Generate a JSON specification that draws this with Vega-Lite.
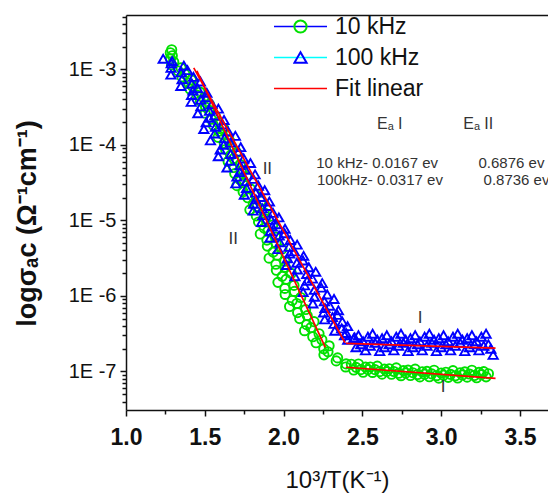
{
  "$schema": "https://vega.github.io/schema/vega-lite/v6.json",
  "width": 422,
  "height": 395,
  "autosize": {"type": "none"},
  "padding": {"left": 126, "top": 15, "right": 0, "bottom": 84},
  "background": "white",
  "config": {
    "view": {"stroke": null},
    "font": "Liberation Sans",
    "axis": {"domainColor": "#111", "domainWidth": 1.5, "tickColor": "#111", "tickWidth": 1.5, "grid": false, "labelColor": "#111", "titleColor": "#111", "labelFont": "Liberation Sans", "titleFont": "Liberation Sans"}
  },
  "resolve": {"axis": {"x": "independent"}},
  "datasets": {
    "points": [
      {"series": "10 kHz", "x": 1.290, "y": -2.74}, {"series": "10 kHz", "x": 1.281, "y": -2.78}, {"series": "10 kHz", "x": 1.294, "y": -2.82}, {"series": "10 kHz", "x": 1.282, "y": -2.86},
      {"series": "10 kHz", "x": 1.303, "y": -2.90}, {"series": "10 kHz", "x": 1.289, "y": -2.94}, {"series": "10 kHz", "x": 1.349, "y": -2.98}, {"series": "10 kHz", "x": 1.331, "y": -3.02},
      {"series": "10 kHz", "x": 1.373, "y": -3.06}, {"series": "10 kHz", "x": 1.355, "y": -3.10}, {"series": "10 kHz", "x": 1.415, "y": -3.14}, {"series": "10 kHz", "x": 1.397, "y": -3.18},
      {"series": "10 kHz", "x": 1.421, "y": -3.22}, {"series": "10 kHz", "x": 1.406, "y": -3.26}, {"series": "10 kHz", "x": 1.469, "y": -3.30}, {"series": "10 kHz", "x": 1.451, "y": -3.34},
      {"series": "10 kHz", "x": 1.493, "y": -3.38}, {"series": "10 kHz", "x": 1.472, "y": -3.42}, {"series": "10 kHz", "x": 1.529, "y": -3.46}, {"series": "10 kHz", "x": 1.505, "y": -3.50},
      {"series": "10 kHz", "x": 1.526, "y": -3.54}, {"series": "10 kHz", "x": 1.503, "y": -3.58}, {"series": "10 kHz", "x": 1.567, "y": -3.62}, {"series": "10 kHz", "x": 1.541, "y": -3.66},
      {"series": "10 kHz", "x": 1.583, "y": -3.70}, {"series": "10 kHz", "x": 1.554, "y": -3.74}, {"series": "10 kHz", "x": 1.619, "y": -3.78}, {"series": "10 kHz", "x": 1.590, "y": -3.82},
      {"series": "10 kHz", "x": 1.611, "y": -3.86}, {"series": "10 kHz", "x": 1.584, "y": -3.90}, {"series": "10 kHz", "x": 1.656, "y": -3.94}, {"series": "10 kHz", "x": 1.624, "y": -3.98},
      {"series": "10 kHz", "x": 1.669, "y": -4.02}, {"series": "10 kHz", "x": 1.632, "y": -4.06}, {"series": "10 kHz", "x": 1.701, "y": -4.10}, {"series": "10 kHz", "x": 1.663, "y": -4.14},
      {"series": "10 kHz", "x": 1.684, "y": -4.18}, {"series": "10 kHz", "x": 1.648, "y": -4.22}, {"series": "10 kHz", "x": 1.725, "y": -4.26}, {"series": "10 kHz", "x": 1.684, "y": -4.30},
      {"series": "10 kHz", "x": 1.732, "y": -4.34}, {"series": "10 kHz", "x": 1.690, "y": -4.38}, {"series": "10 kHz", "x": 1.766, "y": -4.42}, {"series": "10 kHz", "x": 1.723, "y": -4.46},
      {"series": "10 kHz", "x": 1.745, "y": -4.50}, {"series": "10 kHz", "x": 1.704, "y": -4.54}, {"series": "10 kHz", "x": 1.789, "y": -4.58}, {"series": "10 kHz", "x": 1.743, "y": -4.62},
      {"series": "10 kHz", "x": 1.820, "y": -4.66}, {"series": "10 kHz", "x": 1.773, "y": -4.70}, {"series": "10 kHz", "x": 1.857, "y": -4.74}, {"series": "10 kHz", "x": 1.808, "y": -4.78},
      {"series": "10 kHz", "x": 1.831, "y": -4.82}, {"series": "10 kHz", "x": 1.786, "y": -4.86}, {"series": "10 kHz", "x": 1.878, "y": -4.90}, {"series": "10 kHz", "x": 1.827, "y": -4.94},
      {"series": "10 kHz", "x": 1.884, "y": -4.98}, {"series": "10 kHz", "x": 1.841, "y": -5.02}, {"series": "10 kHz", "x": 1.931, "y": -5.06}, {"series": "10 kHz", "x": 1.877, "y": -5.10},
      {"series": "10 kHz", "x": 1.901, "y": -5.14}, {"series": "10 kHz", "x": 1.852, "y": -5.18}, {"series": "10 kHz", "x": 1.949, "y": -5.22}, {"series": "10 kHz", "x": 1.894, "y": -5.26},
      {"series": "10 kHz", "x": 1.952, "y": -5.30}, {"series": "10 kHz", "x": 1.897, "y": -5.34}, {"series": "10 kHz", "x": 1.990, "y": -5.38}, {"series": "10 kHz", "x": 1.934, "y": -5.42},
      {"series": "10 kHz", "x": 1.959, "y": -5.46}, {"series": "10 kHz", "x": 1.908, "y": -5.50}, {"series": "10 kHz", "x": 2.008, "y": -5.54}, {"series": "10 kHz", "x": 1.951, "y": -5.58},
      {"series": "10 kHz", "x": 2.011, "y": -5.62}, {"series": "10 kHz", "x": 1.954, "y": -5.66}, {"series": "10 kHz", "x": 2.049, "y": -5.70}, {"series": "10 kHz", "x": 1.991, "y": -5.74},
      {"series": "10 kHz", "x": 2.016, "y": -5.78}, {"series": "10 kHz", "x": 1.964, "y": -5.82}, {"series": "10 kHz", "x": 2.066, "y": -5.86}, {"series": "10 kHz", "x": 2.008, "y": -5.90},
      {"series": "10 kHz", "x": 2.069, "y": -5.94}, {"series": "10 kHz", "x": 2.010, "y": -5.98}, {"series": "10 kHz", "x": 2.109, "y": -6.02}, {"series": "10 kHz", "x": 2.055, "y": -6.06},
      {"series": "10 kHz", "x": 2.084, "y": -6.10}, {"series": "10 kHz", "x": 2.038, "y": -6.14}, {"series": "10 kHz", "x": 2.140, "y": -6.18}, {"series": "10 kHz", "x": 2.089, "y": -6.22},
      {"series": "10 kHz", "x": 2.150, "y": -6.26}, {"series": "10 kHz", "x": 2.102, "y": -6.30}, {"series": "10 kHz", "x": 2.193, "y": -6.34}, {"series": "10 kHz", "x": 2.146, "y": -6.38},
      {"series": "10 kHz", "x": 2.173, "y": -6.42}, {"series": "10 kHz", "x": 2.133, "y": -6.46}, {"series": "10 kHz", "x": 2.225, "y": -6.50}, {"series": "10 kHz", "x": 2.185, "y": -6.54},
      {"series": "10 kHz", "x": 2.243, "y": -6.58}, {"series": "10 kHz", "x": 2.206, "y": -6.62}, {"series": "10 kHz", "x": 2.289, "y": -6.66}, {"series": "10 kHz", "x": 2.255, "y": -6.70},
      {"series": "10 kHz", "x": 2.282, "y": -6.74}, {"series": "10 kHz", "x": 2.256, "y": -6.78}, {"series": "10 kHz", "x": 2.343, "y": -6.82}, {"series": "10 kHz", "x": 2.334, "y": -6.86},
      {"series": "10 kHz", "x": 2.397, "y": -6.90}, {"series": "10 kHz", "x": 2.394, "y": -6.94},
      {"series": "10 kHz", "x": 2.430, "y": -6.904}, {"series": "10 kHz", "x": 2.445, "y": -6.980}, {"series": "10 kHz", "x": 2.460, "y": -6.945}, {"series": "10 kHz", "x": 2.475, "y": -6.901},
      {"series": "10 kHz", "x": 2.490, "y": -6.976}, {"series": "10 kHz", "x": 2.505, "y": -7.011}, {"series": "10 kHz", "x": 2.520, "y": -6.943}, {"series": "10 kHz", "x": 2.535, "y": -6.976},
      {"series": "10 kHz", "x": 2.550, "y": -6.940}, {"series": "10 kHz", "x": 2.565, "y": -7.013}, {"series": "10 kHz", "x": 2.580, "y": -6.976}, {"series": "10 kHz", "x": 2.595, "y": -6.929},
      {"series": "10 kHz", "x": 2.610, "y": -7.002}, {"series": "10 kHz", "x": 2.625, "y": -7.035}, {"series": "10 kHz", "x": 2.640, "y": -6.968}, {"series": "10 kHz", "x": 2.655, "y": -7.001},
      {"series": "10 kHz", "x": 2.670, "y": -6.964}, {"series": "10 kHz", "x": 2.685, "y": -7.037}, {"series": "10 kHz", "x": 2.700, "y": -7.000}, {"series": "10 kHz", "x": 2.715, "y": -6.952},
      {"series": "10 kHz", "x": 2.730, "y": -7.024}, {"series": "10 kHz", "x": 2.745, "y": -7.056}, {"series": "10 kHz", "x": 2.760, "y": -6.988}, {"series": "10 kHz", "x": 2.775, "y": -7.020},
      {"series": "10 kHz", "x": 2.790, "y": -6.982}, {"series": "10 kHz", "x": 2.805, "y": -7.054}, {"series": "10 kHz", "x": 2.820, "y": -7.016}, {"series": "10 kHz", "x": 2.835, "y": -6.968},
      {"series": "10 kHz", "x": 2.850, "y": -7.040}, {"series": "10 kHz", "x": 2.865, "y": -7.072}, {"series": "10 kHz", "x": 2.880, "y": -7.004}, {"series": "10 kHz", "x": 2.895, "y": -7.036},
      {"series": "10 kHz", "x": 2.910, "y": -6.998}, {"series": "10 kHz", "x": 2.925, "y": -7.070}, {"series": "10 kHz", "x": 2.940, "y": -7.032}, {"series": "10 kHz", "x": 2.955, "y": -6.984},
      {"series": "10 kHz", "x": 2.970, "y": -7.056}, {"series": "10 kHz", "x": 2.985, "y": -7.088}, {"series": "10 kHz", "x": 3.000, "y": -7.020}, {"series": "10 kHz", "x": 3.015, "y": -7.050},
      {"series": "10 kHz", "x": 3.030, "y": -7.010}, {"series": "10 kHz", "x": 3.045, "y": -7.078}, {"series": "10 kHz", "x": 3.060, "y": -7.038}, {"series": "10 kHz", "x": 3.075, "y": -6.988},
      {"series": "10 kHz", "x": 3.090, "y": -7.057}, {"series": "10 kHz", "x": 3.105, "y": -7.087}, {"series": "10 kHz", "x": 3.120, "y": -7.016}, {"series": "10 kHz", "x": 3.135, "y": -7.046},
      {"series": "10 kHz", "x": 3.150, "y": -7.005}, {"series": "10 kHz", "x": 3.165, "y": -7.075}, {"series": "10 kHz", "x": 3.180, "y": -7.034}, {"series": "10 kHz", "x": 3.195, "y": -6.984},
      {"series": "10 kHz", "x": 3.210, "y": -7.053}, {"series": "10 kHz", "x": 3.225, "y": -7.083}, {"series": "10 kHz", "x": 3.240, "y": -7.012}, {"series": "10 kHz", "x": 3.255, "y": -7.042},
      {"series": "10 kHz", "x": 3.270, "y": -7.001}, {"series": "10 kHz", "x": 3.285, "y": -7.071}, {"series": "10 kHz", "x": 3.300, "y": -7.030},

      {"series": "100 kHz", "x": 1.236, "y": -2.86}, {"series": "100 kHz", "x": 1.293, "y": -2.89}, {"series": "100 kHz", "x": 1.287, "y": -2.92}, {"series": "100 kHz", "x": 1.367, "y": -2.95},
      {"series": "100 kHz", "x": 1.286, "y": -2.98}, {"series": "100 kHz", "x": 1.390, "y": -3.01}, {"series": "100 kHz", "x": 1.349, "y": -3.04}, {"series": "100 kHz", "x": 1.285, "y": -3.07},
      {"series": "100 kHz", "x": 1.428, "y": -3.10}, {"series": "100 kHz", "x": 1.356, "y": -3.13}, {"series": "100 kHz", "x": 1.472, "y": -3.16}, {"series": "100 kHz", "x": 1.418, "y": -3.19},
      {"series": "100 kHz", "x": 1.348, "y": -3.22}, {"series": "100 kHz", "x": 1.454, "y": -3.25}, {"series": "100 kHz", "x": 1.425, "y": -3.28}, {"series": "100 kHz", "x": 1.513, "y": -3.31},
      {"series": "100 kHz", "x": 1.416, "y": -3.34}, {"series": "100 kHz", "x": 1.510, "y": -3.37}, {"series": "100 kHz", "x": 1.475, "y": -3.40}, {"series": "100 kHz", "x": 1.414, "y": -3.43},
      {"series": "100 kHz", "x": 1.545, "y": -3.46}, {"series": "100 kHz", "x": 1.475, "y": -3.49}, {"series": "100 kHz", "x": 1.586, "y": -3.52}, {"series": "100 kHz", "x": 1.530, "y": -3.55},
      {"series": "100 kHz", "x": 1.456, "y": -3.58}, {"series": "100 kHz", "x": 1.563, "y": -3.61}, {"series": "100 kHz", "x": 1.529, "y": -3.64}, {"series": "100 kHz", "x": 1.622, "y": -3.67},
      {"series": "100 kHz", "x": 1.509, "y": -3.70}, {"series": "100 kHz", "x": 1.613, "y": -3.73}, {"series": "100 kHz", "x": 1.568, "y": -3.76}, {"series": "100 kHz", "x": 1.494, "y": -3.79},
      {"series": "100 kHz", "x": 1.648, "y": -3.82}, {"series": "100 kHz", "x": 1.563, "y": -3.85}, {"series": "100 kHz", "x": 1.694, "y": -3.88}, {"series": "100 kHz", "x": 1.626, "y": -3.91},
      {"series": "100 kHz", "x": 1.536, "y": -3.94}, {"series": "100 kHz", "x": 1.662, "y": -3.97}, {"series": "100 kHz", "x": 1.620, "y": -4.00}, {"series": "100 kHz", "x": 1.728, "y": -4.03},
      {"series": "100 kHz", "x": 1.598, "y": -4.06}, {"series": "100 kHz", "x": 1.714, "y": -4.09}, {"series": "100 kHz", "x": 1.664, "y": -4.12}, {"series": "100 kHz", "x": 1.586, "y": -4.15},
      {"series": "100 kHz", "x": 1.747, "y": -4.18}, {"series": "100 kHz", "x": 1.661, "y": -4.21}, {"series": "100 kHz", "x": 1.790, "y": -4.24}, {"series": "100 kHz", "x": 1.724, "y": -4.27},
      {"series": "100 kHz", "x": 1.641, "y": -4.30}, {"series": "100 kHz", "x": 1.758, "y": -4.33}, {"series": "100 kHz", "x": 1.722, "y": -4.36}, {"series": "100 kHz", "x": 1.819, "y": -4.39},
      {"series": "100 kHz", "x": 1.704, "y": -4.42}, {"series": "100 kHz", "x": 1.808, "y": -4.45}, {"series": "100 kHz", "x": 1.764, "y": -4.48}, {"series": "100 kHz", "x": 1.697, "y": -4.51},
      {"series": "100 kHz", "x": 1.840, "y": -4.54}, {"series": "100 kHz", "x": 1.765, "y": -4.57}, {"series": "100 kHz", "x": 1.880, "y": -4.60}, {"series": "100 kHz", "x": 1.823, "y": -4.63},
      {"series": "100 kHz", "x": 1.751, "y": -4.66}, {"series": "100 kHz", "x": 1.855, "y": -4.69}, {"series": "100 kHz", "x": 1.824, "y": -4.72}, {"series": "100 kHz", "x": 1.910, "y": -4.75},
      {"series": "100 kHz", "x": 1.810, "y": -4.78}, {"series": "100 kHz", "x": 1.902, "y": -4.81}, {"series": "100 kHz", "x": 1.865, "y": -4.84}, {"series": "100 kHz", "x": 1.807, "y": -4.87},
      {"series": "100 kHz", "x": 1.933, "y": -4.90}, {"series": "100 kHz", "x": 1.869, "y": -4.93}, {"series": "100 kHz", "x": 1.970, "y": -4.96}, {"series": "100 kHz", "x": 1.921, "y": -4.99},
      {"series": "100 kHz", "x": 1.860, "y": -5.02}, {"series": "100 kHz", "x": 1.954, "y": -5.05}, {"series": "100 kHz", "x": 1.928, "y": -5.08}, {"series": "100 kHz", "x": 2.009, "y": -5.11},
      {"series": "100 kHz", "x": 1.917, "y": -5.14}, {"series": "100 kHz", "x": 2.007, "y": -5.17}, {"series": "100 kHz", "x": 1.972, "y": -5.20}, {"series": "100 kHz", "x": 1.914, "y": -5.23},
      {"series": "100 kHz", "x": 2.043, "y": -5.26}, {"series": "100 kHz", "x": 1.977, "y": -5.29}, {"series": "100 kHz", "x": 2.086, "y": -5.32}, {"series": "100 kHz", "x": 2.034, "y": -5.35},
      {"series": "100 kHz", "x": 1.966, "y": -5.38}, {"series": "100 kHz", "x": 2.068, "y": -5.41}, {"series": "100 kHz", "x": 2.039, "y": -5.44}, {"series": "100 kHz", "x": 2.127, "y": -5.47},
      {"series": "100 kHz", "x": 2.025, "y": -5.50}, {"series": "100 kHz", "x": 2.123, "y": -5.53}, {"series": "100 kHz", "x": 2.084, "y": -5.56}, {"series": "100 kHz", "x": 2.019, "y": -5.59},
      {"series": "100 kHz", "x": 2.160, "y": -5.62}, {"series": "100 kHz", "x": 2.087, "y": -5.65}, {"series": "100 kHz", "x": 2.204, "y": -5.68}, {"series": "100 kHz", "x": 2.147, "y": -5.71},
      {"series": "100 kHz", "x": 2.072, "y": -5.74}, {"series": "100 kHz", "x": 2.183, "y": -5.77}, {"series": "100 kHz", "x": 2.149, "y": -5.80}, {"series": "100 kHz", "x": 2.245, "y": -5.83},
      {"series": "100 kHz", "x": 2.133, "y": -5.86}, {"series": "100 kHz", "x": 2.239, "y": -5.89}, {"series": "100 kHz", "x": 2.195, "y": -5.92}, {"series": "100 kHz", "x": 2.124, "y": -5.95},
      {"series": "100 kHz", "x": 2.277, "y": -5.98}, {"series": "100 kHz", "x": 2.196, "y": -6.01}, {"series": "100 kHz", "x": 2.320, "y": -6.04}, {"series": "100 kHz", "x": 2.259, "y": -6.07},
      {"series": "100 kHz", "x": 2.186, "y": -6.10}, {"series": "100 kHz", "x": 2.293, "y": -6.13}, {"series": "100 kHz", "x": 2.263, "y": -6.16}, {"series": "100 kHz", "x": 2.348, "y": -6.19},
      {"series": "100 kHz", "x": 2.254, "y": -6.22}, {"series": "100 kHz", "x": 2.342, "y": -6.25}, {"series": "100 kHz", "x": 2.310, "y": -6.28}, {"series": "100 kHz", "x": 2.261, "y": -6.31},
      {"series": "100 kHz", "x": 2.373, "y": -6.34}, {"series": "100 kHz", "x": 2.320, "y": -6.37}, {"series": "100 kHz", "x": 2.406, "y": -6.40}, {"series": "100 kHz", "x": 2.369, "y": -6.43},
      {"series": "100 kHz", "x": 2.325, "y": -6.46}, {"series": "100 kHz", "x": 2.397, "y": -6.49}, {"series": "100 kHz", "x": 2.387, "y": -6.52}, {"series": "100 kHz", "x": 2.451, "y": -6.55},
      {"series": "100 kHz", "x": 2.407, "y": -6.58},
      {"series": "100 kHz", "x": 2.445, "y": -6.56}, {"series": "100 kHz", "x": 2.460, "y": -6.68}, {"series": "100 kHz", "x": 2.475, "y": -6.52}, {"series": "100 kHz", "x": 2.490, "y": -6.64},
      {"series": "100 kHz", "x": 2.505, "y": -6.60}, {"series": "100 kHz", "x": 2.520, "y": -6.72}, {"series": "100 kHz", "x": 2.535, "y": -6.54}, {"series": "100 kHz", "x": 2.550, "y": -6.66},
      {"series": "100 kHz", "x": 2.565, "y": -6.50}, {"series": "100 kHz", "x": 2.580, "y": -6.62}, {"series": "100 kHz", "x": 2.595, "y": -6.58}, {"series": "100 kHz", "x": 2.610, "y": -6.73},
      {"series": "100 kHz", "x": 2.625, "y": -6.56}, {"series": "100 kHz", "x": 2.640, "y": -6.68}, {"series": "100 kHz", "x": 2.655, "y": -6.52}, {"series": "100 kHz", "x": 2.670, "y": -6.64},
      {"series": "100 kHz", "x": 2.685, "y": -6.60}, {"series": "100 kHz", "x": 2.700, "y": -6.72}, {"series": "100 kHz", "x": 2.715, "y": -6.54}, {"series": "100 kHz", "x": 2.730, "y": -6.66},
      {"series": "100 kHz", "x": 2.745, "y": -6.50}, {"series": "100 kHz", "x": 2.760, "y": -6.62}, {"series": "100 kHz", "x": 2.775, "y": -6.58}, {"series": "100 kHz", "x": 2.790, "y": -6.73},
      {"series": "100 kHz", "x": 2.805, "y": -6.56}, {"series": "100 kHz", "x": 2.820, "y": -6.68}, {"series": "100 kHz", "x": 2.835, "y": -6.52}, {"series": "100 kHz", "x": 2.850, "y": -6.64},
      {"series": "100 kHz", "x": 2.865, "y": -6.60}, {"series": "100 kHz", "x": 2.880, "y": -6.72}, {"series": "100 kHz", "x": 2.895, "y": -6.54}, {"series": "100 kHz", "x": 2.910, "y": -6.66},
      {"series": "100 kHz", "x": 2.925, "y": -6.50}, {"series": "100 kHz", "x": 2.940, "y": -6.62}, {"series": "100 kHz", "x": 2.955, "y": -6.58}, {"series": "100 kHz", "x": 2.970, "y": -6.73},
      {"series": "100 kHz", "x": 2.985, "y": -6.56}, {"series": "100 kHz", "x": 3.000, "y": -6.68}, {"series": "100 kHz", "x": 3.015, "y": -6.52}, {"series": "100 kHz", "x": 3.030, "y": -6.64},
      {"series": "100 kHz", "x": 3.045, "y": -6.60}, {"series": "100 kHz", "x": 3.060, "y": -6.72}, {"series": "100 kHz", "x": 3.075, "y": -6.54}, {"series": "100 kHz", "x": 3.090, "y": -6.66},
      {"series": "100 kHz", "x": 3.105, "y": -6.50}, {"series": "100 kHz", "x": 3.120, "y": -6.62}, {"series": "100 kHz", "x": 3.135, "y": -6.58}, {"series": "100 kHz", "x": 3.150, "y": -6.73},
      {"series": "100 kHz", "x": 3.165, "y": -6.56}, {"series": "100 kHz", "x": 3.180, "y": -6.68}, {"series": "100 kHz", "x": 3.195, "y": -6.52}, {"series": "100 kHz", "x": 3.210, "y": -6.64},
      {"series": "100 kHz", "x": 3.225, "y": -6.60}, {"series": "100 kHz", "x": 3.240, "y": -6.72}, {"series": "100 kHz", "x": 3.255, "y": -6.54}, {"series": "100 kHz", "x": 3.270, "y": -6.66},
      {"series": "100 kHz", "x": 3.285, "y": -6.50}, {"series": "100 kHz", "x": 3.300, "y": -6.64}, {"series": "100 kHz", "x": 3.315, "y": -6.70}, {"series": "100 kHz", "x": 3.330, "y": -6.78}
    ],
    "fits": [
      {"series": "Fit linear", "seg": "a", "x": 1.45, "y": -3.02}, {"series": "Fit linear", "seg": "a", "x": 2.265, "y": -6.68},
      {"series": "Fit linear", "seg": "b", "x": 1.43, "y": -2.98}, {"series": "Fit linear", "seg": "b", "x": 2.39, "y": -6.62},
      {"series": "Fit linear", "seg": "c", "x": 2.396, "y": -6.944}, {"series": "Fit linear", "seg": "c", "x": 3.345, "y": -7.09},
      {"series": "Fit linear", "seg": "d", "x": 2.396, "y": -6.627}, {"series": "Fit linear", "seg": "d", "x": 3.345, "y": -6.69}
    ],
    "energyHeads": [
      {"t": "Eₐ I", "x": 2.593, "y": -3.72},
      {"t": "Eₐ II", "x": 3.14, "y": -3.72}
    ],
    "energyRows": [
      {"t": "10 kHz- 0.0167 ev", "x": 2.2075, "y": -4.238},
      {"t": "0.6876 ev", "x": 3.237, "y": -4.238},
      {"t": "100kHz-  0.0317 ev", "x": 2.212, "y": -4.464},
      {"t": "0.8736 ev", "x": 3.269, "y": -4.464}
    ],
    "regions": [
      {"t": "II", "x": 1.897, "y": -4.318},
      {"t": "II", "x": 1.681, "y": -5.245},
      {"t": "I", "x": 2.867, "y": -6.291},
      {"t": "I", "x": 3.013, "y": -7.205}
    ]
  },
  "encoding": {
    "x": {"field": "x", "type": "quantitative", "scale": {"domain": [1, 3.678], "nice": false, "zero": false}, "axis": null},
    "y": {
      "field": "y", "type": "quantitative",
      "scale": {"domain": [-7.51, -2.28], "nice": false, "zero": false},
      "axis": {
        "values": [-7.398, -7.301, -7.222, -7.155, -7.097, -7.046, -7,
                   -6.699, -6.523, -6.398, -6.301, -6.222, -6.155, -6.097, -6.046, -6,
                   -5.699, -5.523, -5.398, -5.301, -5.222, -5.155, -5.097, -5.046, -5,
                   -4.699, -4.523, -4.398, -4.301, -4.222, -4.155, -4.097, -4.046, -4,
                   -3.699, -3.523, -3.398, -3.301, -3.222, -3.155, -3.097, -3.046, -3,
                   -2.699, -2.523, -2.398, -2.301],
        "labelExpr": "datum.value == round(datum.value) ? '1E ' + datum.value : ''",
        "tickSize": {"condition": {"test": "datum.value == round(datum.value)", "value": 6}, "value": 4},
        "labelFontSize": 20, "labelPadding": 4, "labelOverlap": false, "labelFlush": false,
        "title": "logσₐc (Ω⁻¹cm⁻¹)", "titleFontSize": 27, "titleFontWeight": "bold", "titlePadding": 27, "titleY": 208
      }
    }
  },
  "layer": [
    {
      "data": {"name": "points"},
      "mark": {"type": "point", "filled": false, "size": 85, "strokeWidth": 1.9, "opacity": 1},
      "encoding": {
        "x": {
          "field": "x", "type": "quantitative",
          "scale": {"domain": [1, 3.678], "nice": false, "zero": false},
          "axis": {
            "orient": "bottom",
            "values": [1, 1.25, 1.5, 1.75, 2, 2.25, 2.5, 2.75, 3, 3.25, 3.5],
            "labelExpr": "datum.value % 0.5 == 0 ? format(datum.value, '.1f') : ''",
            "tickSize": {"condition": {"test": "datum.value % 0.5 == 0", "value": 6}, "value": 4},
            "labelFontSize": 23, "labelFontWeight": "bold", "labelPadding": 10,
            "labelFlush": false, "labelOverlap": false,
            "title": "10³/T(K⁻¹)", "titleFontSize": 24, "titleFontWeight": "normal", "titlePadding": 19
          }
        },
        "color": {"field": "series", "type": "nominal", "scale": {"range": ["#00e000", "#0000ff"]},
          "legend": {"orient": "none", "legendX": 167, "legendY": -4, "title": null, "padding": 0, "clipHeight": 31, "rowPadding": 0, "labelExpr": "''", "symbolSize": 150, "symbolStrokeWidth": 2, "symbolFillColor": "white", "zindex": 2}},
        "shape": {"field": "series", "type": "nominal", "scale": {"range": ["circle", "triangle-up"]},
          "legend": {"orient": "none", "legendX": 167, "legendY": -4, "title": null, "padding": 0, "clipHeight": 31, "rowPadding": 0, "labelExpr": "''", "symbolSize": 150, "symbolStrokeWidth": 2, "symbolFillColor": "white", "zindex": 2}}
      }
    },
    {
      "data": {"name": "fits"},
      "mark": {"type": "line", "strokeWidth": 1.7},
      "encoding": {
        "detail": {"field": "seg", "type": "nominal"},
        "stroke": {"field": "series", "type": "nominal",
          "scale": {"domain": ["10 kHz", "100 kHz", "Fit linear"], "range": ["#0000ff", "#00ffff", "#ff0000"]},
          "legend": {"orient": "none", "legendX": 147, "legendY": -4, "title": null, "padding": 0, "clipHeight": 31, "rowPadding": 0, "symbolType": "stroke", "symbolSize": 2809, "symbolStrokeWidth": 1.5, "labelFontSize": 23, "labelOffset": 7, "labelColor": "#111", "labelFont": "Liberation Sans", "zindex": 1}}
      }
    },
    {
      "data": {"name": "energyHeads"},
      "mark": {"type": "text", "align": "left", "baseline": "middle", "fontSize": 16, "color": "#333", "font": "Liberation Sans"},
      "encoding": {"text": {"field": "t"}}
    },
    {
      "data": {"name": "energyRows"},
      "mark": {"type": "text", "align": "left", "baseline": "middle", "fontSize": 15, "color": "#333", "font": "Liberation Sans"},
      "encoding": {"text": {"field": "t"}}
    },
    {
      "data": {"name": "regions"},
      "mark": {"type": "text", "align": "center", "baseline": "middle", "fontSize": 17, "color": "#333", "font": "Liberation Sans"},
      "encoding": {
        "text": {"field": "t"},
        "x": {
          "field": "x", "type": "quantitative",
          "scale": {"domain": [1, 3.678], "nice": false, "zero": false},
          "axis": {"orient": "top", "labels": false, "ticks": false, "title": null, "domain": true}
        }
      }
    }
  ]
}
